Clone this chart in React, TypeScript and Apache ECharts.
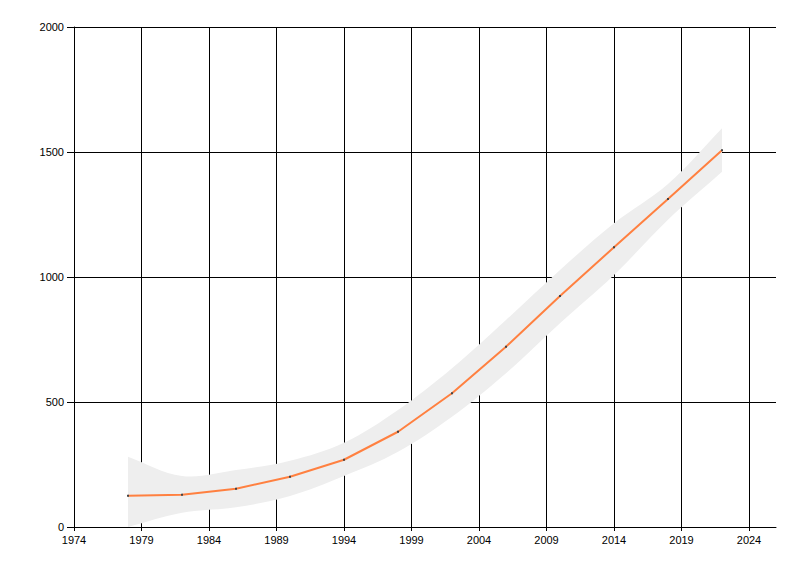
import React, { useEffect, useRef } from "react";
import * as echarts from "echarts";

// survey years and fitted values
const years = [1978, 1982, 1986, 1990, 1994, 1998, 2002, 2006, 2010, 2014, 2018, 2022];
const values = [125, 129, 153, 201, 269, 381, 535, 721, 924, 1119, 1312, 1507];
// confidence band edges
const upper = [281, 204, 228, 265, 337, 468, 635, 828, 1028, 1215, 1372, 1595];
const lower = [0, 57, 79, 124, 204, 301, 441, 615, 815, 1008, 1229, 1421];
// axis ticks
const xTicks = [1974, 1979, 1984, 1989, 1994, 1999, 2004, 2009, 2014, 2019, 2024];
const yTicks = [0, 500, 1000, 1500, 2000];

const App = () => {
  const chartRef = useRef<HTMLDivElement>(null);

  useEffect(() => {
    const chart = echarts.init(chartRef.current as HTMLDivElement, null, {
      renderer: "svg",
    });

    const labelStyle = {
      color: "#000",
      fontFamily: "Liberation Sans",
      fontSize: 11,
      formatter: (v: number) => String(v),
    };

    // whole band as one smoothed polygon, upper edge forward, lower edge back
    const renderBand = (params: any, api: any) => {
      if (params.dataIndex !== 0) return null;
      const n = params.dataInsideLength;
      const top: number[][] = [];
      const bottom: number[][] = [];
      for (let i = 0; i < n; i++) {
        const x = api.value(0, i);
        top.push(api.coord([x, api.value(2, i)]));
        bottom.push(api.coord([x, api.value(1, i)]));
      }
      bottom.reverse();
      // doubled corners keep the two ends square
      const pts = [
        top[0], top[0],
        ...top.slice(1, -1),
        top[n - 1], top[n - 1],
        bottom[0], bottom[0],
        ...bottom.slice(1, -1),
        bottom[n - 1], bottom[n - 1],
      ];
      return {
        type: "polygon",
        shape: { points: pts, smooth: 0.35 },
        style: { fill: "#eeeeee" },
      };
    };

    const option = {
      animation: false,
      backgroundColor: "#fff",
      grid: { left: 74, right: 24, top: 27, bottom: 49 },
      xAxis: {
        type: "value",
        min: 1974,
        max: 2026,
        axisLine: { show: true, lineStyle: { color: "#000", width: 1 } },
        axisTick: { show: true, length: 4, customValues: xTicks, lineStyle: { color: "#000" } },
        axisLabel: { ...labelStyle, margin: 7, customValues: xTicks },
        splitLine: { show: true, lineStyle: { color: "#000", width: 1 } },
      },
      yAxis: {
        type: "value",
        min: yTicks[0],
        max: yTicks[yTicks.length - 1],
        interval: 500,
        axisLine: { show: true, lineStyle: { color: "#000", width: 1 } },
        axisTick: { show: true, length: 7, lineStyle: { color: "#000" } },
        axisLabel: { ...labelStyle, margin: 10 },
        splitLine: { show: true, lineStyle: { color: "#000", width: 1 } },
      },
      series: [
        {
          name: "band",
          type: "custom",
          renderItem: renderBand,
          encode: { x: 0, y: [1, 2] },
          data: years.map((y, i) => [y, lower[i], upper[i]]),
          z: 1,
        },
        {
          name: "fit",
          type: "line",
          symbol: "rect",
          symbolSize: 2,
          itemStyle: { color: "#444" },
          lineStyle: { color: "#ff8040", width: 2 },
          data: years.map((y, i) => [y, values[i]]),
          z: 3,
        },
      ],
    };

    chart.setOption(option);

    return () => {
      chart.dispose();
    };
  }, []);

  return (
    <div
      ref={chartRef}
      style={{ position: "absolute", left: 0, top: 0, width: "800px", height: "576px" }}
    />
  );
};

export default App;
